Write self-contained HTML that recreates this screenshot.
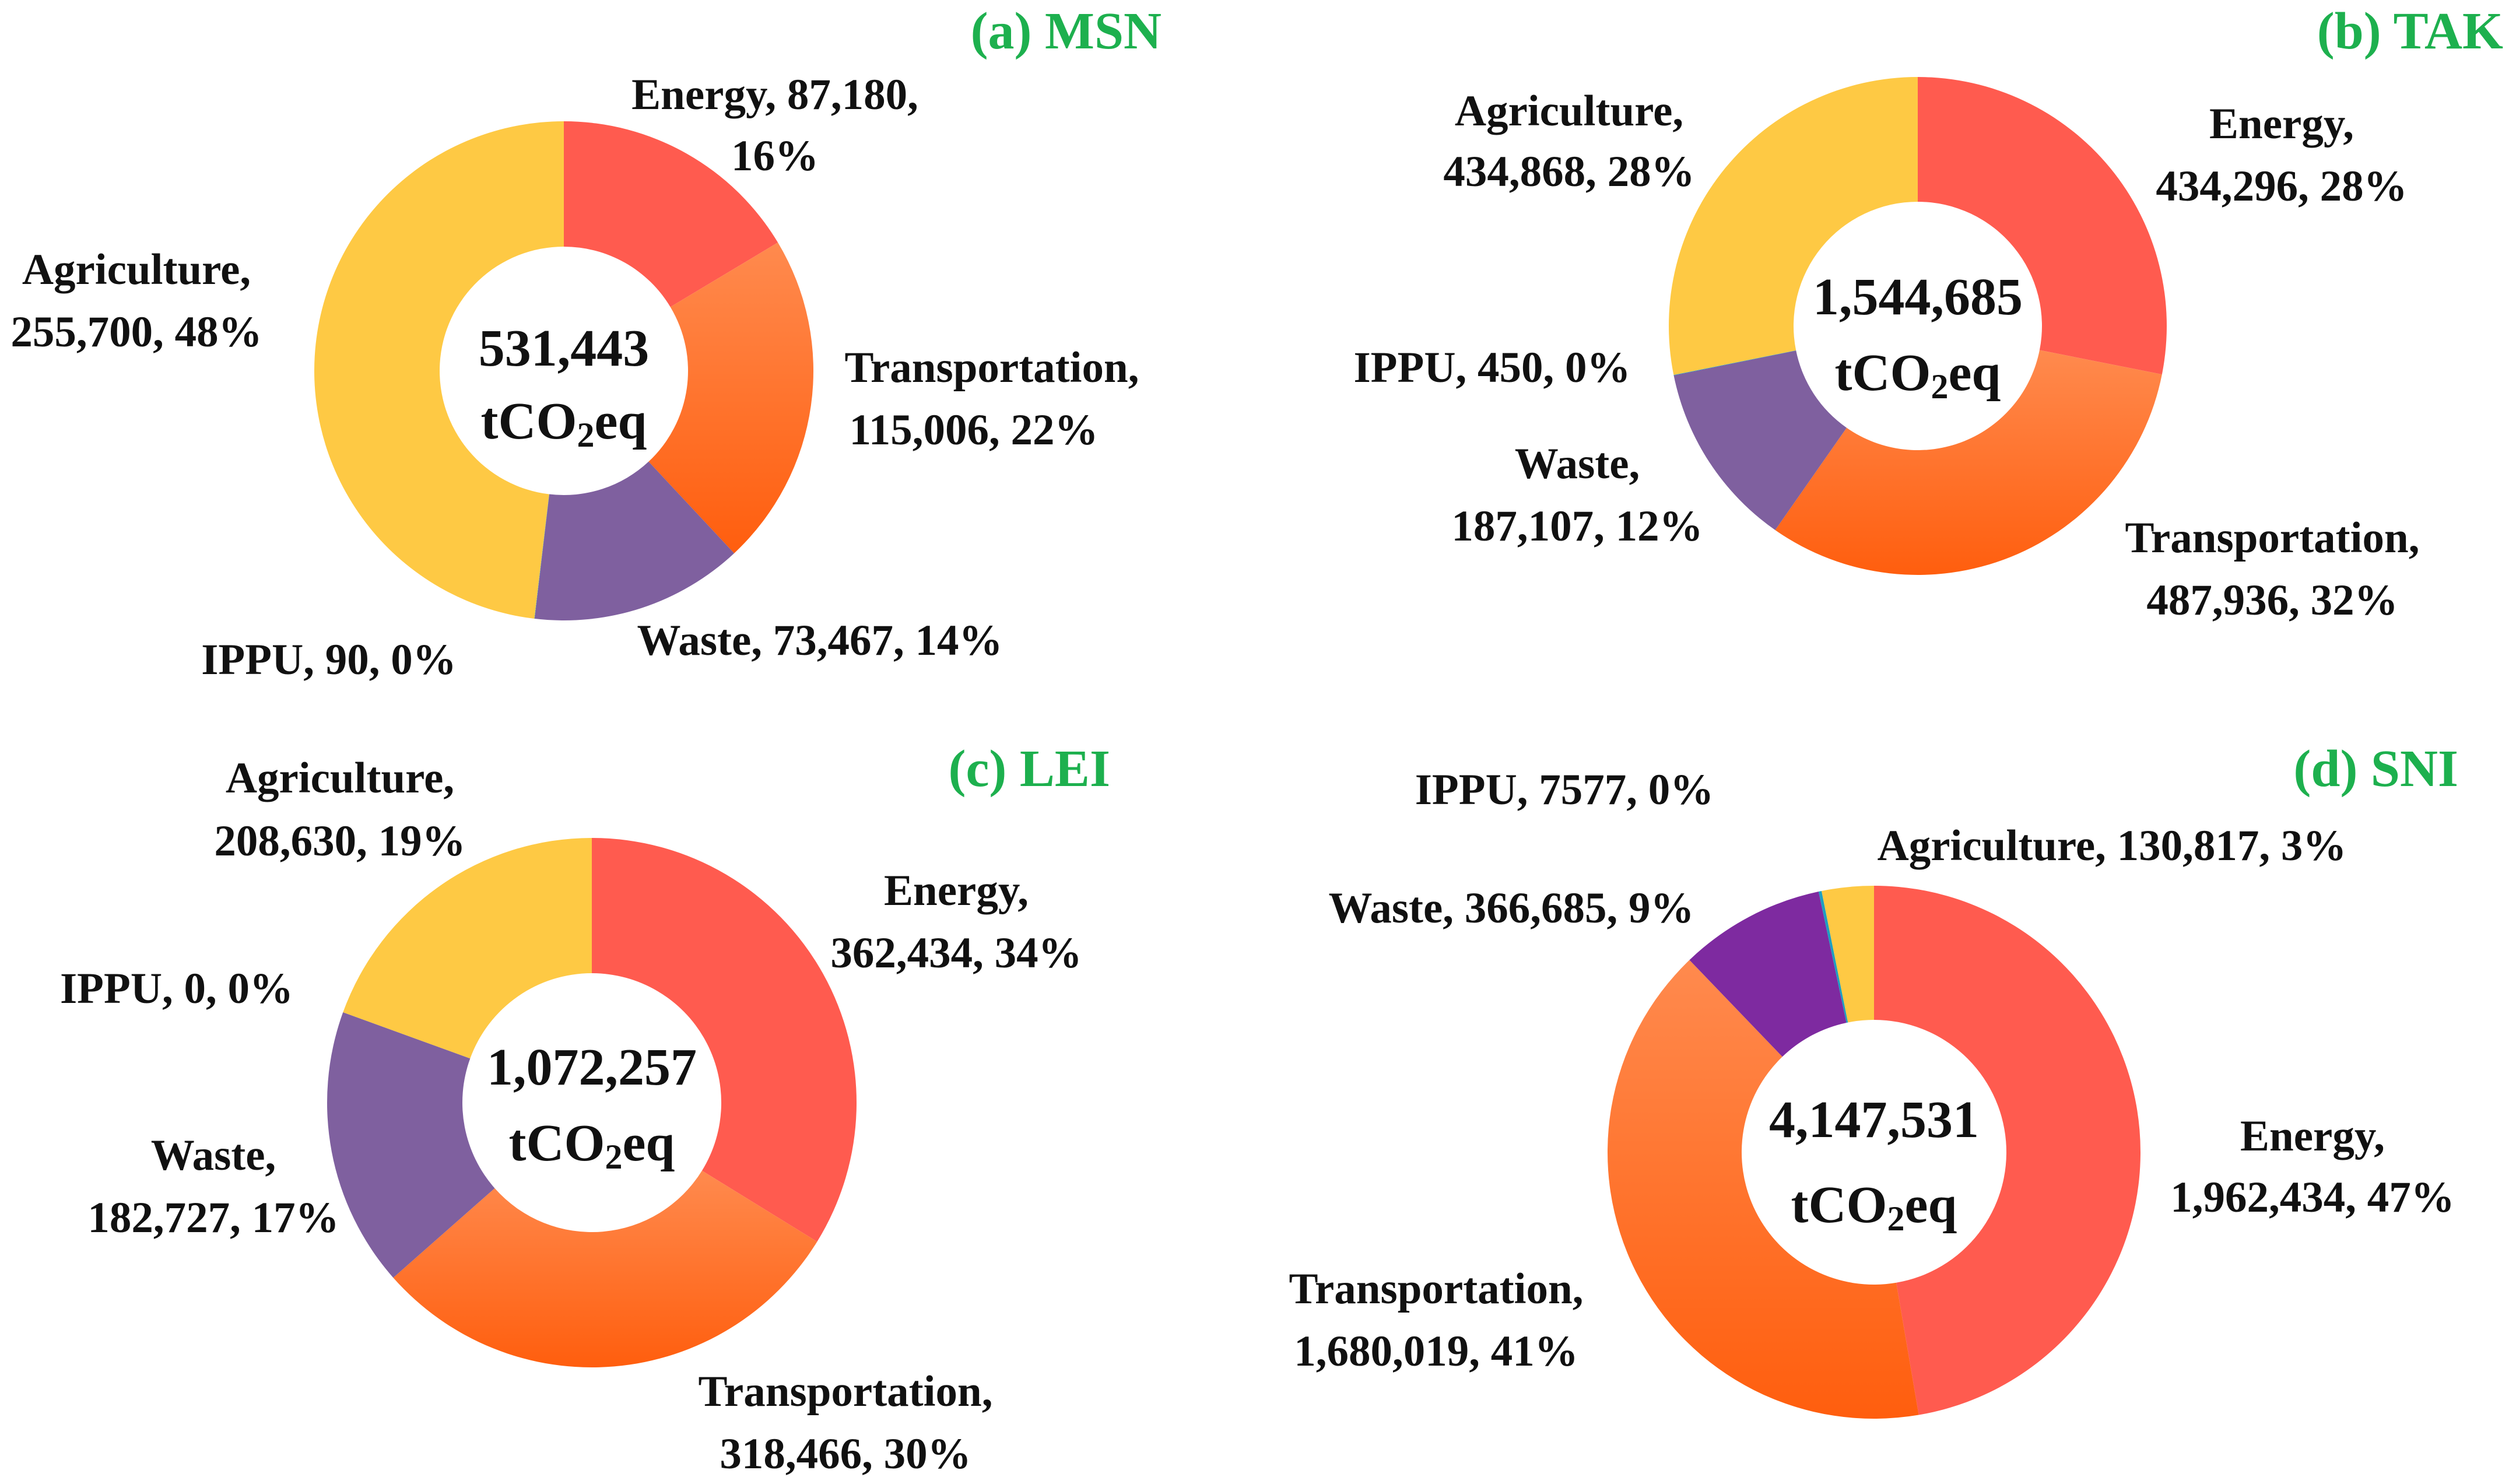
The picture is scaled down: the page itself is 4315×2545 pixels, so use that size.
<!DOCTYPE html>
<html><head><meta charset="utf-8"><style>
html,body{margin:0;padding:0;background:#fff;}
svg{display:block;font-family:"Liberation Serif",serif;font-weight:bold;}
</style></head><body>
<svg id="chart" width="4315" height="2545" viewBox="0 0 4315 2545" xmlns="http://www.w3.org/2000/svg">
<defs>
<linearGradient id="gA" gradientUnits="objectBoundingBox" x1="0" y1="0" x2="0" y2="1"><stop offset="0" stop-color="#FF8A4E"/><stop offset="1" stop-color="#FF5E0E"/></linearGradient>
</defs>
<g id="layer"></g>
</svg>
<script>
const sectors = ["Energy","Transportation","Waste","IPPU","Agriculture"];
const msnValues = [87180, 115006, 73467, 90, 255700];
const takValues = [434296, 487936, 187107, 450, 434868];
const leiValues = [362434, 318466, 182727, 0, 208630];
const sniValues = [1962434, 1680019, 366685, 7577, 130817];
const totals = ["531,443","1,544,685","1,072,257","4,147,531"];
const titles = ["(a) MSN","(b) TAK","(c) LEI","(d) SNI"];

const NS="http://www.w3.org/2000/svg";
const layer=document.getElementById('layer');
function mk(tag,attrs,parent){const e=document.createElementNS(NS,tag);for(const k in attrs)e.setAttribute(k,attrs[k]);(parent||layer).appendChild(e);return e;}

const charts=[
 {values:msnValues,cx:967,cy:636,r:428,ri:213,waste:"#7F609F",tx:1992,ty:83,c1:627,c2:752,
  labels:[[1329,187,"Energy, 87,180,"],[1329,292,"16%"],[1701,655,"Transportation,"],[1670,762,"115,006, 22%"],[1406,1123,"Waste, 73,467, 14%"],[564,1156,"IPPU, 90, 0%"],[234,487,"Agriculture,"],[234,594,"255,700, 48%"]]},
 {values:takValues,cx:3289,cy:559,r:427,ri:213,waste:"#7F609F",tx:4293,ty:83,c1:539,c2:669,
  labels:[[3913,237,"Energy,"],[3913,344,"434,296, 28%"],[3897,947,"Transportation,"],[3897,1054,"487,936, 32%"],[2705,820,"Waste,"],[2705,927,"187,107, 12%"],[2559,655,"IPPU, 450, 0%"],[2691,215,"Agriculture,"],[2691,319,"434,868, 28%"]]},
 {values:leiValues,cx:1015,cy:1891,r:454,ri:222,waste:"#7F609F",tx:1904,ty:1348,c1:1860,c2:1990,
  labels:[[1640,1552,"Energy,"],[1640,1659,"362,434, 34%"],[1450,2411,"Transportation,"],[1450,2518,"318,466, 30%"],[366,2006,"Waste,"],[366,2113,"182,727, 17%"],[303,1720,"IPPU, 0, 0%"],[583,1359,"Agriculture,"],[583,1467,"208,630, 19%"]]},
 {values:sniValues,cx:3214,cy:1976,r:457,ri:227,waste:"#7E2AA0",tx:4216,ty:1348,c1:1950,c2:2096,
  labels:[[3966,1973,"Energy,"],[3966,2078,"1,962,434, 47%"],[2463,2235,"Transportation,"],[2463,2342,"1,680,019, 41%"],[2592,1582,"Waste, 366,685, 9%"],[2683,1379,"IPPU,  7577, 0%"],[3622,1475,"Agriculture, 130,817, 3%"]]}
];
const names=["msn","tak","lei","sni"];

function pt(cx,cy,r,a){return [cx+r*Math.sin(a),cy-r*Math.cos(a)];}
charts.forEach((c,i)=>{
  const g=mk('g',{});
  
  
  const colors=["#FF5B4F","url(#gA)",c.waste,"#1E9FC0","#FEC944"];
  const total=c.values.reduce((s,v)=>s+v,0);
  let a0=0;
  c.values.forEach((v,j)=>{
    if(v<=0)return;
    const a1=a0+v/total*2*Math.PI;
    const large=(a1-a0)>Math.PI?1:0;
    const p1=pt(c.cx,c.cy,c.r,a0),p2=pt(c.cx,c.cy,c.r,a1),p3=pt(c.cx,c.cy,c.ri,a1),p4=pt(c.cx,c.cy,c.ri,a0);
    const d=`M${p1[0]},${p1[1]} A${c.r},${c.r} 0 ${large} 1 ${p2[0]},${p2[1]} L${p3[0]},${p3[1]} A${c.ri},${c.ri} 0 ${large} 0 ${p4[0]},${p4[1]} Z`;
    const p=mk('path',{d:d,fill:colors[j]},g);
    
    
    a0=a1;
  });
  const t=mk('text',{x:c.tx,y:c.ty,'text-anchor':'end','font-size':90,fill:'#1DB04E'},g);
  t.textContent=titles[i];
  
  
  const ct=mk('text',{x:c.cx,y:c.c1,'text-anchor':'middle','font-size':90,fill:'#111'},g);
  ct.textContent=totals[i];
  
  
  const cu=mk('text',{x:c.cx,y:c.c2,'text-anchor':'middle','font-size':90,fill:'#111'},g);
  cu.innerHTML='tCO<tspan font-size="60" dy="14">2</tspan><tspan dy="-14">eq</tspan>';
  
  
  c.labels.forEach(l=>{
    const lt=mk('text',{x:l[0],y:l[1],'text-anchor':'middle','font-size':75,fill:'#111'},g);
    lt.textContent=l[2];
    
    
  });
});
</script>
</body></html>
